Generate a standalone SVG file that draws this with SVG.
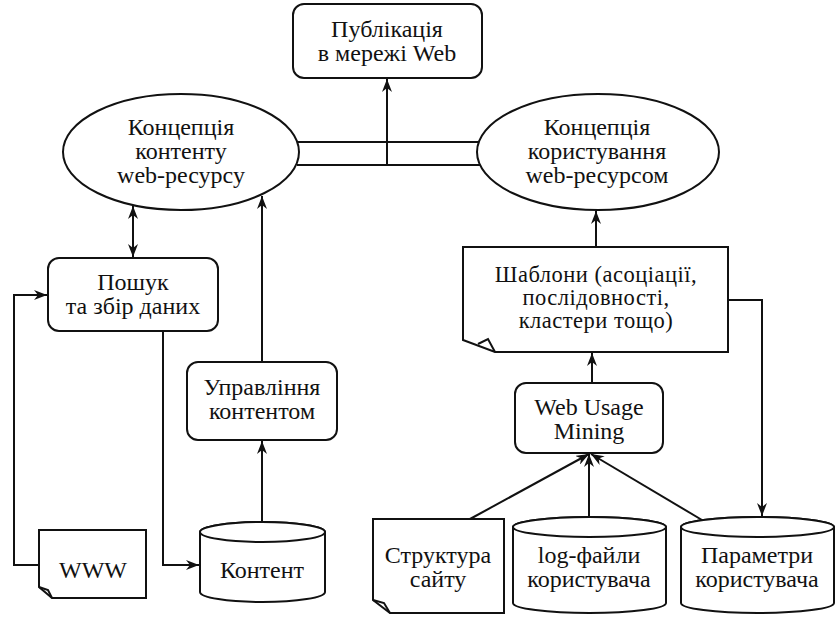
<svg xmlns="http://www.w3.org/2000/svg" width="839" height="622" viewBox="0 0 839 622">
<defs>
<style>
.s{fill:#fff;stroke:#111;stroke-width:2}
.l{fill:none;stroke:#111;stroke-width:2}
.t{font-family:"Liberation Serif","DejaVu Serif",serif;font-size:24px;fill:#111;text-anchor:middle}
.p{font-size:22.5px;letter-spacing:0.5px}
</style>
<marker id="a" viewBox="0 0 13 10" refX="13" refY="5" markerWidth="13" markerHeight="10" markerUnits="userSpaceOnUse" orient="auto-start-reverse">
<path d="M0,0 L13,5 L0,10 L4,5 Z" fill="#111"/>
</marker>
</defs>
<rect width="839" height="622" fill="#fff"/>
<g id="connectors">
<path class="l" d="M297,142 H480 M297,165 H480"/>
<path class="l" d="M387,165 V79" marker-end="url(#a)"/>
<path class="l" d="M133,206 V257" marker-start="url(#a)" marker-end="url(#a)"/>
<path class="l" d="M39,565 H14 V295 H47" marker-end="url(#a)"/>
<path class="l" d="M163,331 V565 H199" marker-end="url(#a)"/>
<path class="l" d="M262,523 V441" marker-end="url(#a)"/>
<path class="l" d="M262,362 V196" marker-end="url(#a)"/>
<path class="l" d="M596,247 V211" marker-end="url(#a)"/>
<path class="l" d="M592,383 V353" marker-end="url(#a)"/>
<path class="l" d="M728,300 H762 V516" marker-end="url(#a)"/>
<path class="l" d="M470,519 L589,454" marker-end="url(#a)"/>
<path class="l" d="M589,517 V454" marker-end="url(#a)"/>
<path class="l" d="M702,520 L591,454" marker-end="url(#a)"/>
</g>
<g id="publication">
<rect class="s" x="293" y="4" width="189" height="74" rx="11"/>
<text class="t" x="387" y="37">Публікація</text>
<text class="t" x="387" y="61">в мережі Web</text>
</g>
<g id="content-concept">
<ellipse class="s" cx="181" cy="152" rx="118" ry="58"/>
<text class="t" x="181" y="135">Концепція</text>
<text class="t" x="181" y="159">контенту</text>
<text class="t" x="181" y="183">web-ресурсу</text>
</g>
<g id="usage-concept">
<ellipse class="s" cx="598" cy="152" rx="121" ry="58"/>
<text class="t" x="597" y="135">Концепція</text>
<text class="t" x="597" y="159">користування</text>
<text class="t" x="597" y="183">web-ресурсом</text>
</g>
<g id="search">
<rect class="s" x="48" y="258" width="170" height="73" rx="11"/>
<text class="t" x="133" y="290">Пошук</text>
<text class="t" x="133" y="314">та збір даних</text>
</g>
<g id="content-mgmt">
<rect class="s" x="187" y="362" width="150" height="78" rx="11"/>
<text class="t" x="262" y="395">Управління</text>
<text class="t" x="262" y="419">контентом</text>
</g>
<g id="www">
<path class="s" d="M39,530 H146 V598 H52 L39,587 Z"/>
<path class="l" d="M39,587 L48,590 L52,598" stroke-width="1.5"/>
<text class="t" x="93" y="578">WWW</text>
</g>
<g id="content-db">
<path class="s" d="M200,532 V592 A62.5,10 0 0 0 325,592 V532 A62.5,10 0 0 0 200,532 Z"/>
<ellipse class="s" cx="262.5" cy="532" rx="62.5" ry="10"/>
<text class="t" x="262" y="578">Контент</text>
</g>
<g id="patterns">
<path class="s" d="M463,247 H728 V352 H495 L463,340 Z"/>
<path class="l" d="M478,344 L488,339 L495,352" stroke-width="1.5"/>
<text class="t p" x="596" y="282">Шаблони (асоціації,</text>
<text class="t p" x="596" y="305">послідовності,</text>
<text class="t p" x="596" y="328">кластери тощо)</text>
</g>
<g id="wum">
<rect class="s" x="515" y="383" width="148" height="70" rx="11"/>
<text class="t" x="589" y="415">Web Usage</text>
<text class="t" x="589" y="439">Mining</text>
</g>
<g id="site-structure">
<path class="s" d="M373,519 H504 V613 H390 L373,600 Z"/>
<path class="l" d="M373,600 L384,603 L390,613" stroke-width="1.5"/>
<text class="t" x="438" y="563">Структура</text>
<text class="t" x="438" y="587">сайту</text>
</g>
<g id="log-files">
<path class="s" d="M513,527 V603 A76.5,10 0 0 0 666,603 V527 A76.5,10 0 0 0 513,527 Z"/>
<ellipse class="s" cx="589.5" cy="527" rx="76.5" ry="10"/>
<text class="t" x="589" y="563">log-файли</text>
<text class="t" x="589" y="587">користувача</text>
</g>
<g id="user-params">
<path class="s" d="M681,527 V603 A76.5,10 0 0 0 834,603 V527 A76.5,10 0 0 0 681,527 Z"/>
<ellipse class="s" cx="757.5" cy="527" rx="76.5" ry="10"/>
<text class="t" x="757" y="563">Параметри</text>
<text class="t" x="757" y="587">користувача</text>
</g>
</svg>
